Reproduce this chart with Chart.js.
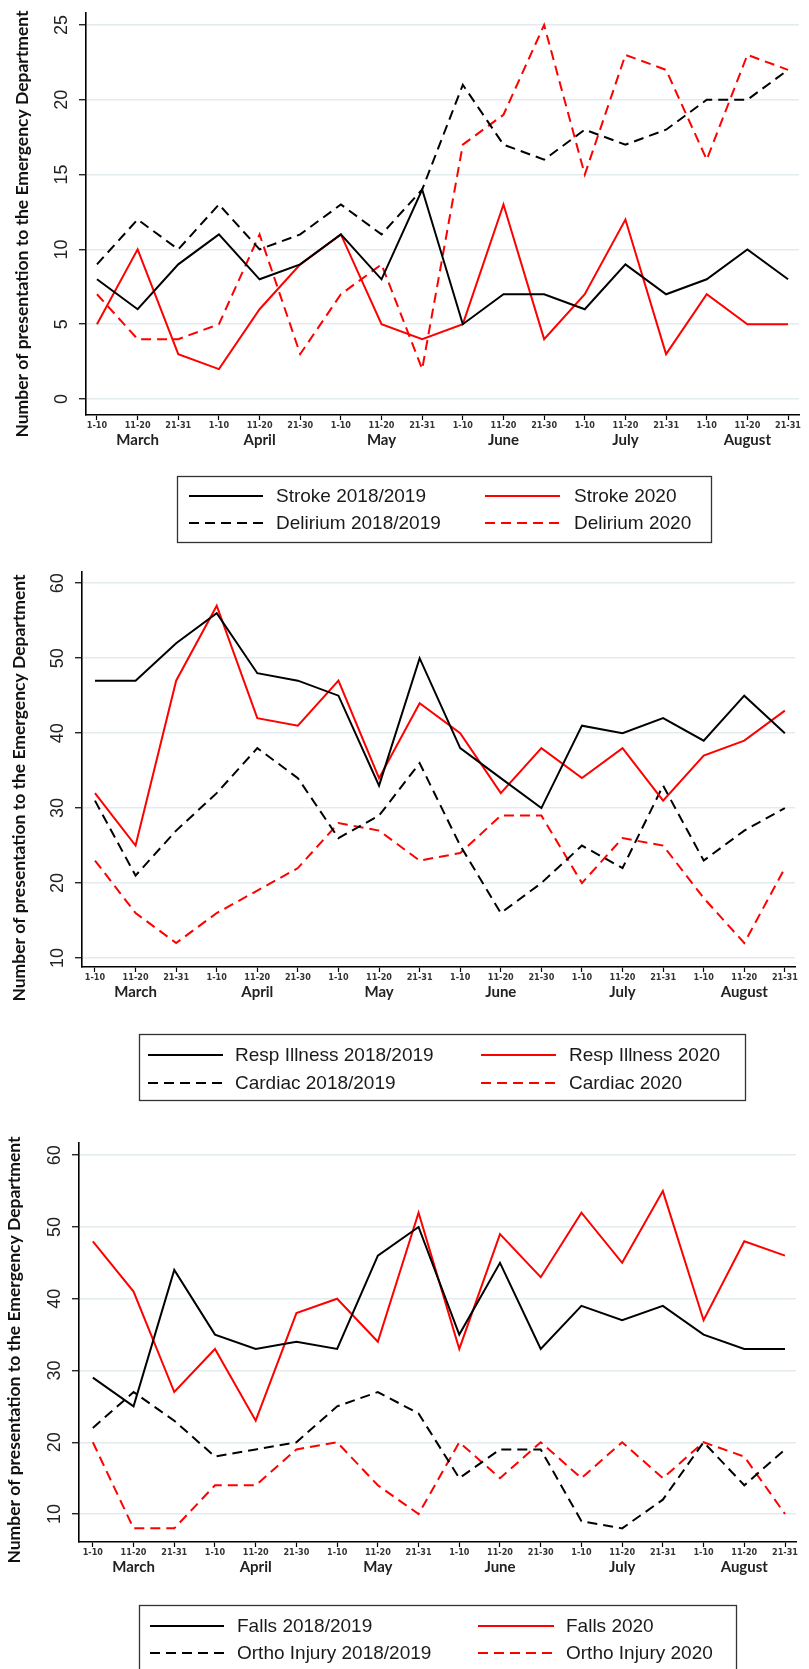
<!DOCTYPE html>
<html>
<head>
<meta charset="utf-8">
<script src="https://cdn.jsdelivr.net/npm/chart.js@4.4.1/dist/chart.umd.min.js"></script>
<style>
  body { margin: 0; background: #fff; width: 809px; height: 1669px; overflow: hidden; position: relative; }
  .panel { position: absolute; left: 0; width: 809px; }
  canvas { display: block; }
</style>
</head>
<body>
<div class="panel" style="top:0;height:560px"><canvas id="c1" width="809" height="560"></canvas></div>
<div class="panel" style="top:560px;height:560px"><canvas id="c2" width="809" height="560"></canvas></div>
<div class="panel" style="top:1120px;height:549px"><canvas id="c3" width="809" height="549"></canvas></div>
<script>
// ten-day periods, March to August
const dayLabels = ["1-10", "11-20", "21-31", "1-10", "11-20", "21-30", "1-10", "11-20", "21-31",
  "1-10", "11-20", "21-30", "1-10", "11-20", "21-31", "1-10", "11-20", "21-31"];
const monthLabels = ["March", "April", "May", "June", "July", "August"];
const monthTickIdx = [1, 4, 7, 10, 13, 16];
const yTicksStroke = [0, 5, 10, 15, 20, 25];
const yTicksOther = [10, 20, 30, 40, 50, 60];
const yTitle = "Number of presentation to the Emergency Department";

// panel 1
const strokePrev   = [8, 6, 9, 11, 8, 9, 11, 8, 14, 5, 7, 7, 6, 9, 7, 8, 10, 8];
const stroke2020   = [5, 10, 3, 2, 6, 9, 11, 5, 4, 5, 13, 4, 7, 12, 3, 7, 5, 5];
const deliriumPrev = [9, 12, 10, 13, 10, 11, 13, 11, 14, 21, 17, 16, 18, 17, 18, 20, 20, 22];
const delirium2020 = [7, 4, 4, 5, 11, 3, 7, 9, 2, 17, 19, 25, 15, 23, 22, 16, 23, 22];

// panel 2
const respPrev    = [47, 47, 52, 56, 48, 47, 45, 33, 50, 38, 34, 30, 41, 40, 42, 39, 45, 40];
const resp2020    = [32, 25, 47, 57, 42, 41, 47, 34, 44, 40, 32, 38, 34, 38, 31, 37, 39, 43];
const cardiacPrev = [31, 21, 27, 32, 38, 34, 26, 29, 36, 25, 16, 20, 25, 22, 33, 23, 27, 30];
const cardiac2020 = [23, 16, 12, 16, 19, 22, 28, 27, 23, 24, 29, 29, 20, 26, 25, 18, 12, 22];

// panel 3
const fallsPrev = [29, 25, 44, 35, 33, 34, 33, 46, 50, 35, 45, 33, 39, 37, 39, 35, 33, 33];
const falls2020 = [48, 41, 27, 33, 23, 38, 40, 34, 52, 33, 49, 43, 52, 45, 55, 37, 48, 46];
const orthoPrev = [22, 27, 23, 18, 19, 20, 25, 27, 24, 15, 19, 19, 9, 8, 12, 20, 14, 19];
const ortho2020 = [20, 8, 8, 14, 14, 19, 20, 14, 10, 20, 15, 20, 15, 20, 15, 20, 18, 10];

const RED = "#ff0000";
const BLACK = "#000000";
const DASH = [10, 6];
const GRID = "#e3ebef";

function pts(arr) {
  return arr.map((v, i) => ({ x: i, y: v }));
}

function series(label, values, color, dashed) {
  return {
    label,
    data: pts(values),
    borderColor: color,
    backgroundColor: color,
    borderWidth: 2,
    borderDash: dashed ? DASH : [],
    pointRadius: 0,
    tension: 0,
    fill: false,
  };
}

// draws rotated y labels, the y title and the boxed legend
const decor = {
  id: "decor",
  afterDraw(chart, args, o) {
    const ctx = chart.ctx;
    const ys = chart.scales.y;
    ctx.save();
    ctx.fillStyle = "#222";
    ctx.font = '18px "Liberation Sans", Arial, sans-serif';
    ctx.textAlign = "center";
    ctx.textBaseline = "middle";
    ys.ticks.forEach((t) => {
      ctx.save();
      ctx.translate(chart.chartArea.left - 24, ys.getPixelForValue(t.value));
      ctx.rotate(-Math.PI / 2);
      ctx.fillText(String(t.value), 0, 0);
      ctx.restore();
    });

    ctx.save();
    ctx.fillStyle = "#111";
    ctx.font = 'bold 17.5px Lato, "Open Sans", sans-serif';
    ctx.translate(o.titleX, o.titleY);
    ctx.rotate(-Math.PI / 2);
    ctx.fillText(yTitle, 0, 0);
    ctx.restore();

    const lg = o.legend;
    ctx.strokeStyle = "#333";
    ctx.lineWidth = 1.3;
    ctx.strokeRect(lg.x1 + 0.5, lg.y1 + 0.5, lg.x2 - lg.x1, lg.y2 - lg.y1);
    ctx.font = '19px "Liberation Sans", Arial, sans-serif';
    ctx.textAlign = "left";
    chart.data.datasets.forEach((ds, i) => {
      const col = lg.cols[i % 2];
      const y = lg.rows[Math.floor(i / 2)];
      ctx.beginPath();
      ctx.setLineDash(ds.borderDash);
      ctx.strokeStyle = ds.borderColor;
      ctx.lineWidth = 2;
      ctx.moveTo(col.l1, y);
      ctx.lineTo(col.l2, y);
      ctx.stroke();
      ctx.setLineDash([]);
      ctx.fillStyle = "#1a1a1a";
      ctx.fillText(ds.label, col.t, y + 1);
    });
    ctx.restore();
  },
};

function makePanel(id, datasets, yTicks, L) {
  const X_H = 15, X2_H = 28;
  return new Chart(document.getElementById(id), {
    type: "line",
    data: { datasets },
    plugins: [decor],
    options: {
      responsive: false,
      animation: false,
      events: [],
      layout: {
        padding: { top: L.top, left: 0, right: 809 - L.right, bottom: L.h - L.bottom - X_H - X2_H },
      },
      plugins: {
        legend: { display: false },
        tooltip: { enabled: false },
        decor: { titleX: L.titleX, titleY: L.titleY, legend: L.legend },
      },
      scales: {
        x: {
          type: "linear",
          position: "bottom",
          weight: 0,
          min: L.xmin,
          max: L.xmax,
          afterBuildTicks: (s) => { s.ticks = dayLabels.map((_, i) => ({ value: i })); },
          afterFit: (s) => { s.height = X_H; },
          ticks: {
            autoSkip: false,
            maxRotation: 0,
            minRotation: 0,
            padding: 0,
            color: "#333",
            font: { family: '"Liberation Sans Narrow", "DejaVu Sans Condensed", sans-serif', size: 9, weight: "bold" },
            callback: (v) => dayLabels[v],
          },
          grid: { drawOnChartArea: false, drawTicks: true, tickLength: 5, tickColor: "#000", tickWidth: 1.2 },
          border: { color: "#000", width: 1.6 },
        },
        x2: {
          type: "linear",
          position: "bottom",
          weight: 1,
          min: L.xmin,
          max: L.xmax,
          afterBuildTicks: (s) => { s.ticks = monthTickIdx.map((v) => ({ value: v })); },
          afterFit: (s) => { s.height = X2_H; },
          ticks: {
            autoSkip: false,
            maxRotation: 0,
            minRotation: 0,
            padding: -7,
            color: "#222",
            font: { family: 'Lato, "Open Sans", sans-serif', size: 15, weight: "bold" },
            callback: (v) => monthLabels[monthTickIdx.indexOf(v)],
          },
          grid: { display: false },
          border: { display: false },
        },
        y: {
          type: "linear",
          min: L.ymin,
          max: L.ymax,
          afterBuildTicks: (s) => { s.ticks = yTicks.map((v) => ({ value: v })); },
          afterFit: (s) => { s.width = L.left; },
          ticks: { display: false },
          grid: { color: GRID, lineWidth: 1.5, drawTicks: true, tickLength: 7, tickColor: "#000", tickWidth: 1.2 },
          border: { color: "#000", width: 1.6 },
        },
      },
    },
  });
}

makePanel("c1", [
  series("Stroke 2018/2019", strokePrev, BLACK, false),
  series("Stroke 2020", stroke2020, RED, false),
  series("Delirium 2018/2019", deliriumPrev, BLACK, true),
  series("Delirium 2020", delirium2020, RED, true),
], yTicksStroke, {
  h: 560, top: 13, bottom: 415, left: 86, right: 799,
  xmin: -0.27, xmax: 17.27, ymin: -1.07, ymax: 25.8,
  titleX: 22, titleY: 224,
  legend: { x1: 177, x2: 711, y1: 476, y2: 542, rows: [496, 523],
    cols: [{ l1: 189, l2: 263, t: 276 }, { l1: 485, l2: 560, t: 574 }] },
});

makePanel("c2", [
  series("Resp Illness 2018/2019", respPrev, BLACK, false),
  series("Resp Illness 2020", resp2020, RED, false),
  series("Cardiac 2018/2019", cardiacPrev, BLACK, true),
  series("Cardiac 2020", cardiac2020, RED, true),
], yTicksOther, {
  h: 560, top: 12, bottom: 407, left: 82, right: 795,
  xmin: -0.32, xmax: 17.25, ymin: 8.8, ymax: 61.5,
  titleX: 19, titleY: 228,
  legend: { x1: 139, x2: 745, y1: 474, y2: 540, rows: [495, 523],
    cols: [{ l1: 148, l2: 223, t: 235 }, { l1: 481, l2: 556, t: 569 }] },
});

makePanel("c3", [
  series("Falls 2018/2019", fallsPrev, BLACK, false),
  series("Falls 2020", falls2020, RED, false),
  series("Ortho Injury 2018/2019", orthoPrev, BLACK, true),
  series("Ortho Injury 2020", ortho2020, RED, true),
], yTicksOther, {
  h: 549, top: 23, bottom: 422, left: 79, right: 796,
  xmin: -0.34, xmax: 17.27, ymin: 6.1, ymax: 61.7,
  titleX: 14, titleY: 230,
  legend: { x1: 139, x2: 736, y1: 485, y2: 560, rows: [506, 533],
    cols: [{ l1: 150, l2: 224, t: 237 }, { l1: 478, l2: 554, t: 566 }] },
});
</script>
</body>
</html>
